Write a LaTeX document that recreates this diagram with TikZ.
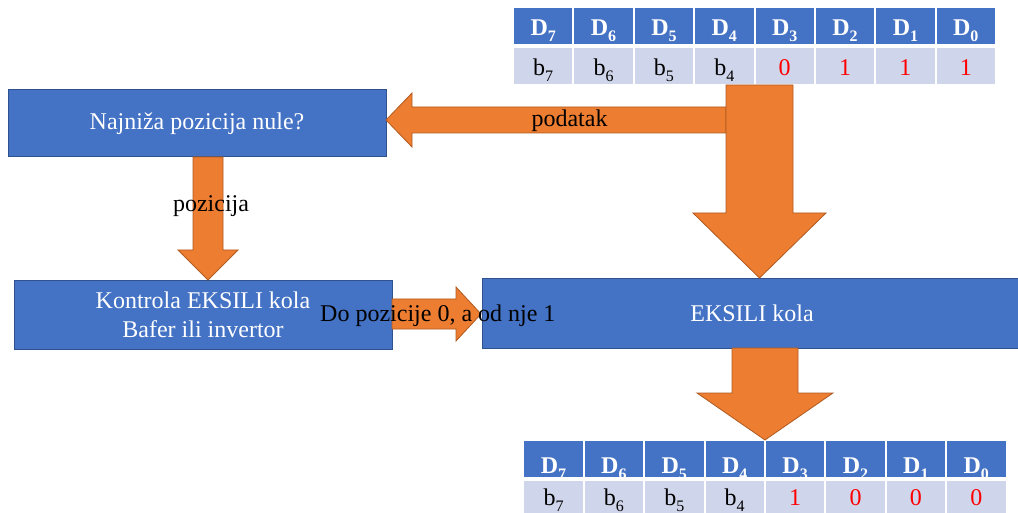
\documentclass[tikz,border=0pt]{standalone}
\usepackage{fontspec}
\setmainfont{Liberation Serif}
\definecolor{oblue}{HTML}{4472C4}
\definecolor{oblueb}{HTML}{2F528F}
\definecolor{oorange}{HTML}{ED7D31}
\definecolor{oorangeb}{HTML}{AE5A21}
\definecolor{cellbg}{HTML}{CFD5EA}
\definecolor{ored}{HTML}{FF0000}
\newcommand\sbs[1]{\raisebox{-6pt}{\fontsize{16}{16}\selectfont #1}}
\tikzset{
  bluebox/.style={draw=oblueb, line width=1pt, fill=oblue, text=white, inner sep=0pt, align=center, font=\fontsize{24}{29}\selectfont},
  blockarrow/.style={draw=oorangeb, line width=0.8pt, fill=oorange, line join=miter},
  lbl/.style={inner sep=0pt, text=black, font=\fontsize{24}{29}\selectfont},
  hdr/.style={inner sep=0pt, anchor=base, text=white, font=\fontsize{24}{29}\selectfont\bfseries},
  dat/.style={inner sep=0pt, anchor=base, font=\fontsize{24}{29}\selectfont},
}
\begin{document}
\begin{tikzpicture}[x=1pt,y=-1pt]
\useasboundingbox (0,0) rectangle (1018,513);
% boxes
\node[bluebox, minimum width=378pt, minimum height=67pt] (q) at (197,123.5) {Najniža pozicija nule?};
\node[bluebox, minimum width=378pt, minimum height=68pt] (k) at (203,315) {Kontrola EKSILI kola\\Bafer ili invertor};
\node[bluebox, minimum width=540pt, minimum height=69pt] (e) at (752,313.5) {EKSILI kola};
% top table
\foreach \i/\s in {0/7,1/6,2/5,3/4,4/3,5/2,6/1,7/0}{
  \fill[oblue] ({513+60.375*\i+1},8) rectangle ({513+60.375*(\i+1)-1},44);
  \fill[cellbg] ({513+60.375*\i+1},48) rectangle ({513+60.375*(\i+1)-1},84);
  \node[hdr] (th\i) at ({513+60.375*(\i+0.5)},36) {D\sbs{\s}};
  \fill[oblue] ({523.3+60.4*\i+1},441) rectangle ({523.3+60.4*(\i+1)-1},477);
  \fill[cellbg] ({523.3+60.4*\i+1},481) rectangle ({523.3+60.4*(\i+1)-1},520);
  \node[hdr] (bh\i) at ({523.3+60.4*(\i+0.5)},473) {D\sbs{\s}};
}
\foreach \i/\s in {0/7,1/6,2/5,3/4}{
  \node[dat] (td\i) at ({513+60.375*(\i+0.5)},76) {b\sbs{\s}};
  \node[dat] (bd\i) at ({523.3+60.4*(\i+0.5)},505) {b\sbs{\s}};
}
\foreach \i/\v/\w in {4/0/1,5/1/0,6/1/0,7/1/0}{
  \node[dat, text=ored] (td\i) at ({513+60.375*(\i+0.5)},76) {\v};
  \node[dat, text=ored] (bd\i) at ({523.3+60.4*(\i+0.5)},505) {\w};
}
% block arrows
\draw[blockarrow] (726,107) -- (412,107) -- (412,93) -- (386,120) -- (412,147) -- (412,133) -- (726,133) -- cycle;
\draw[blockarrow] (726,85) -- (793,85) -- (793,213) -- (826,213) -- (759.5,278) -- (693,213) -- (726,213) -- cycle;
\draw[blockarrow] (193,157) -- (223,157) -- (223,250) -- (238,250) -- (208,280) -- (178,250) -- (193,250) -- cycle;
\draw[blockarrow] (392,299) -- (456,299) -- (456,287) -- (481,314) -- (456,341) -- (456,329) -- (392,329) -- cycle;
\draw[blockarrow] (732,348) -- (798,348) -- (798,393) -- (833,393) -- (765,440) -- (697,393) -- (732,393) -- cycle;
% labels
\node[lbl, anchor=base] (lp) at (569.5,127) {podatak};
\node[lbl, anchor=base] (lz) at (211,212) {pozicija};
\node[lbl, anchor=base west] (ld) at (320,322) {Do pozicije 0, a od nje 1};
\end{tikzpicture}
\end{document}
